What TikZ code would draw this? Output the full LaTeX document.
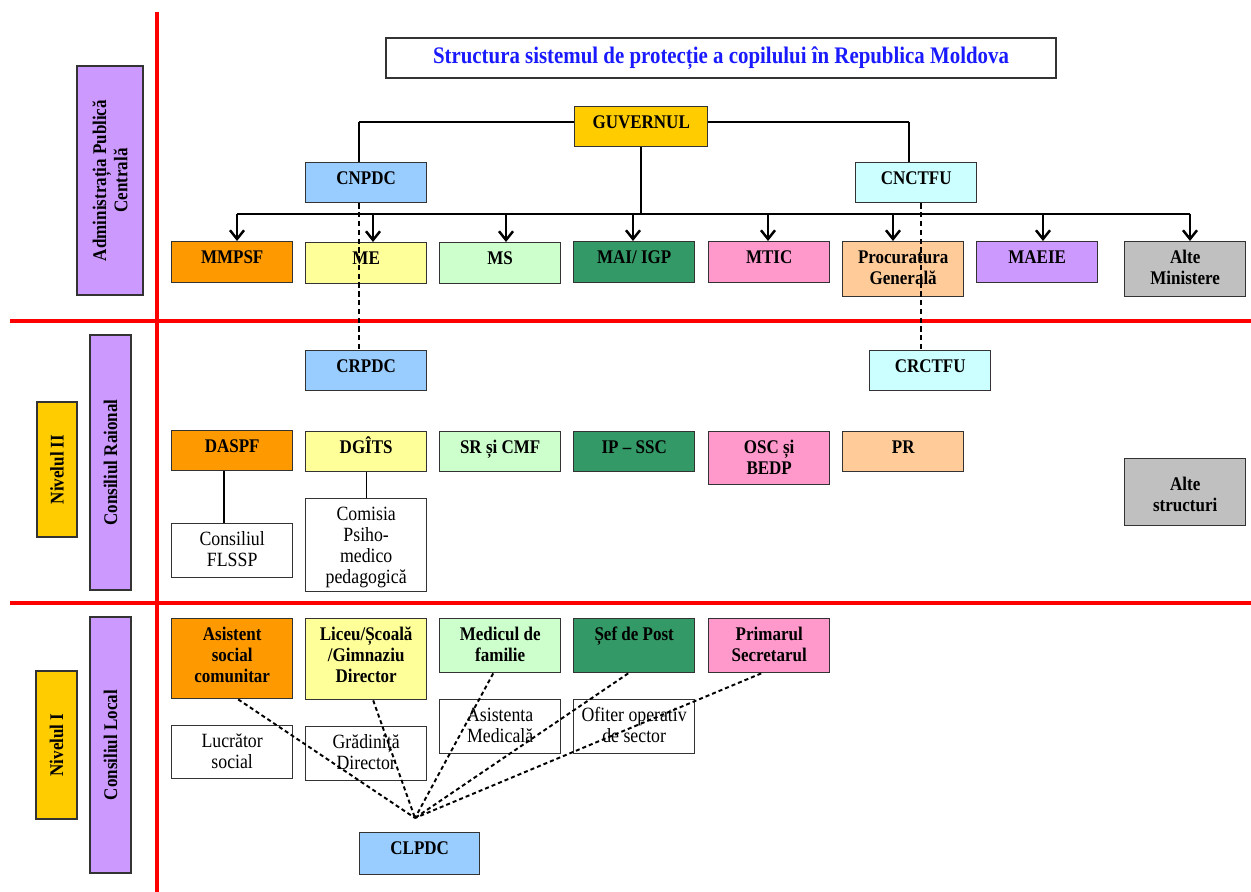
\documentclass[tikz,border=0pt]{standalone}
\usepackage{fontspec}
\setmainfont{Liberation Serif}[FakeStretch=0.88]
\usetikzlibrary{arrows.meta,calc}
\definecolor{cpurple}{HTML}{CC99FF}
\definecolor{cgold}{HTML}{FFCC00}
\definecolor{corange}{HTML}{FF9900}
\definecolor{cyellow}{HTML}{FFFF99}
\definecolor{clgreen}{HTML}{CCFFCC}
\definecolor{cgreen}{HTML}{339966}
\definecolor{cpink}{HTML}{FF99CC}
\definecolor{cpeach}{HTML}{FFCC99}
\definecolor{cgray}{HTML}{C0C0C0}
\definecolor{cblue}{HTML}{99CCFF}
\definecolor{ccyan}{HTML}{CCFFFF}
\definecolor{ctitle}{HTML}{1A1AFF}
\tikzset{
  x=0.02cm, y=-0.02cm,
  topgap/.store in=\bxgap, topgap=2.5pt,
  bx/.style n args={3}{draw=black!80, line width=0.8pt, fill=#3, inner sep=0pt, anchor=north west,
    font=\fontsize{11}{12}\selectfont\bfseries,
    execute at begin node={\begin{minipage}[t][#2][t]{#1}\centering\vspace{\bxgap}\rule{0pt}{10pt}\ignorespaces},
    execute at end node={\end{minipage}}},
  box/.style 2 args={bx={2.42cm}{#1}{#2}},
  wbox/.style={bx={2.42cm}{#1}{white}, font=\fontsize{11.5}{12}\selectfont},
  lab/.style={draw=black!80, line width=0.8pt, rotate=90, align=center, inner sep=0pt,
    font=\fontsize{11}{12}\selectfont\bfseries},
  redline/.style={red, line width=2.8pt},
  conn/.style={black, line width=0.6pt},
  arr/.style={black, line width=1.4pt, -{Straight Barb[length=5pt,width=8pt,line width=1.4pt]}},
  dsh/.style={black, line width=0.6pt, dash pattern=on 3pt off 2pt},
  ddot/.style={black, line width=1.1pt, dash pattern=on 2.3pt off 1.7pt},
}
\begin{document}
\begin{tikzpicture}
\useasboundingbox (0,0) rectangle (1251,892);
% red grid
\draw[redline] (157,12) -- (157,892);
\draw[redline] (10,321) -- (1251,321);
\draw[redline] (10,603) -- (1251,603);
% left labels
\node[lab, fill=cpurple, minimum width=4.58cm, minimum height=1.32cm] (apc) at (110,180.5) {Administrația Publică\\Centrală};
\node[lab, fill=cgold, minimum width=2.7cm, minimum height=0.8cm] (n2) at (57,469.5) {Nivelul II};
\node[lab, fill=cpurple, minimum width=5.1cm, minimum height=0.82cm] (cr) at (110.5,462.5) {Consiliul Raional};
\node[lab, fill=cgold, minimum width=2.96cm, minimum height=0.82cm] (n1) at (56.5,745) {Nivelul I};
\node[lab, fill=cpurple, minimum width=5.12cm, minimum height=0.82cm] (cl) at (110.5,745) {Consiliul Local};
% title
\node[draw=black!80, line width=0.8pt, fill=white, minimum width=13.4cm, minimum height=0.8cm, inner sep=0pt,
  text=ctitle, font=\fontsize{13.5}{15}\selectfont\bfseries] (title) at (721,58) {Structura sistemul de protecție a copilului în Republica Moldova};
% connectors from government (behind boxes)
\coordinate (hl) at (359,122);
\coordinate (hr) at (909,122);
\draw[conn] (hl) -- (hr);
\node[bx={2.66cm}{0.8cm}{cgold}] (guv) at (574,106) {GUVERNUL};
\node[box={0.8cm}{cblue}] (cnpdc) at (305,162) {CNPDC};
\node[box={0.8cm}{ccyan}] (cnctfu) at (855,162) {CNCTFU};
\draw[conn] (hl) -- (hl |- cnpdc.north);
\draw[conn] (hr) -- (hr |- cnctfu.north);
\coordinate (bus) at (641,214);
\draw[conn] (guv.south -| bus) -- (bus);
\coordinate (b1) at (237,214);
\coordinate (b8) at (1190,214);
\draw[black, line width=1pt] (b1) -- (b8);
% ministries
\node[box={0.82cm}{corange}] (mmpsf) at (171,241) {MMPSF};
\node[box={0.82cm}{cyellow}] (me) at (305,242) {ME};
\node[box={0.82cm}{clgreen}] (ms) at (439,242) {MS};
\node[box={0.82cm}{cgreen}] (mai) at (573,241) {MAI/ IGP};
\node[box={0.82cm}{cpink}] (mtic) at (708,241) {MTIC};
\node[box={1.1cm}{cpeach}] (proc) at (842,241) {Procuratura\\Generală};
\node[box={0.82cm}{cpurple}] (maeie) at (976,241) {MAEIE};
\node[box={1.1cm}{cgray}] (altem) at (1124,241) {Alte\\Ministere};
\coordinate (b2) at (373,214);
\coordinate (b3) at (506,214);
\coordinate (b4) at (633,214);
\coordinate (b5) at (768,214);
\coordinate (b6) at (893,214);
\coordinate (b7) at (1043,214);
\draw[arr] (b1) -- (b1 |- mmpsf.north);
\draw[arr] (b2) -- (b2 |- me.north);
\draw[arr] (b3) -- (b3 |- ms.north);
\draw[arr] (b4) -- (b4 |- mai.north);
\draw[arr] (b5) -- (b5 |- mtic.north);
\draw[arr] (b6) -- (b6 |- proc.north);
\draw[arr] (b7) -- (b7 |- maeie.north);
\draw[arr] (b8) -- (b8 |- altem.north);
% level II
\node[box={0.8cm}{cblue}] (crpdc) at (305,350) {CRPDC};
\node[box={0.8cm}{ccyan}] (crctfu) at (869,350) {CRCTFU};
\node[box={0.8cm}{corange}] (daspf) at (171,430) {DASPF};
\node[box={0.8cm}{cyellow}] (dgits) at (305,431) {DGÎTS};
\node[box={0.8cm}{clgreen}] (sr) at (439,431) {SR și CMF};
\node[box={0.8cm}{cgreen}] (ip) at (573,431) {IP – SSC};
\node[box={1.06cm}{cpink}] (osc) at (708,431) {OSC și\\BEDP};
\node[box={0.8cm}{cpeach}] (pr) at (842,431) {PR};
\node[box={1.34cm}{cgray}, topgap=8pt] (altes) at (1124,458) {Alte\\structuri};
\node[wbox={1.08cm}] (cfl) at (171,523) {Consiliul\\FLSSP};
\node[wbox={1.86cm}] (com) at (305,498) {Comisia\\Psiho-\\medico\\pedagogică};
\draw[conn] (daspf.south -| 224,0) -- (cfl.north -| 224,0);
\draw[conn] (dgits.south) -- (com.north);
% dashed vertical links
\coordinate (d1) at (359,0);
\coordinate (d2) at (921,0);
\draw[dsh] (cnpdc.south -| d1) -- (crpdc.north -| d1);
\draw[dsh] (cnctfu.south -| d2) -- (crctfu.north -| d2);
% level I
\node[box={1.6cm}{corange}] (asist) at (171,618) {Asistent\\social\\comunitar};
\node[box={1.62cm}{cyellow}] (liceu) at (305,618) {Liceu/Școală\\/Gimnaziu\\Director};
\node[box={1.08cm}{clgreen}] (medic) at (439,618) {Medicul de\\familie};
\node[box={1.08cm}{cgreen}] (sef) at (573,618) {Șef de Post};
\node[box={1.08cm}{cpink}] (prim) at (708,618) {Primarul\\Secretarul};
\node[wbox={1.06cm}] (lucr) at (171,725) {Lucrător\\social};
\node[wbox={1.08cm}] (grad) at (305,726) {Grădiniță\\Director};
\node[wbox={1.08cm}] (asmed) at (439,699) {Asistenta\\Medicală};
\node[wbox={1.08cm}] (ofit) at (573,699) {Ofiter operativ\\de sector};
\node[bx={2.4cm}{0.84cm}{cblue}] (clpdc) at (359,832) {CLPDC};
\coordinate (cv) at (415,818);
\draw[ddot] ([xshift=0.12cm]asist.south) -- (cv);
\draw[ddot] ([xshift=0.14cm]liceu.south) -- (cv);
\draw[ddot] ([xshift=-0.14cm]medic.south) -- (cv);
\draw[ddot] ([xshift=-0.12cm]sef.south) -- (cv);
\draw[ddot] ([xshift=-0.16cm]prim.south) -- (cv);
\end{tikzpicture}
\end{document}
